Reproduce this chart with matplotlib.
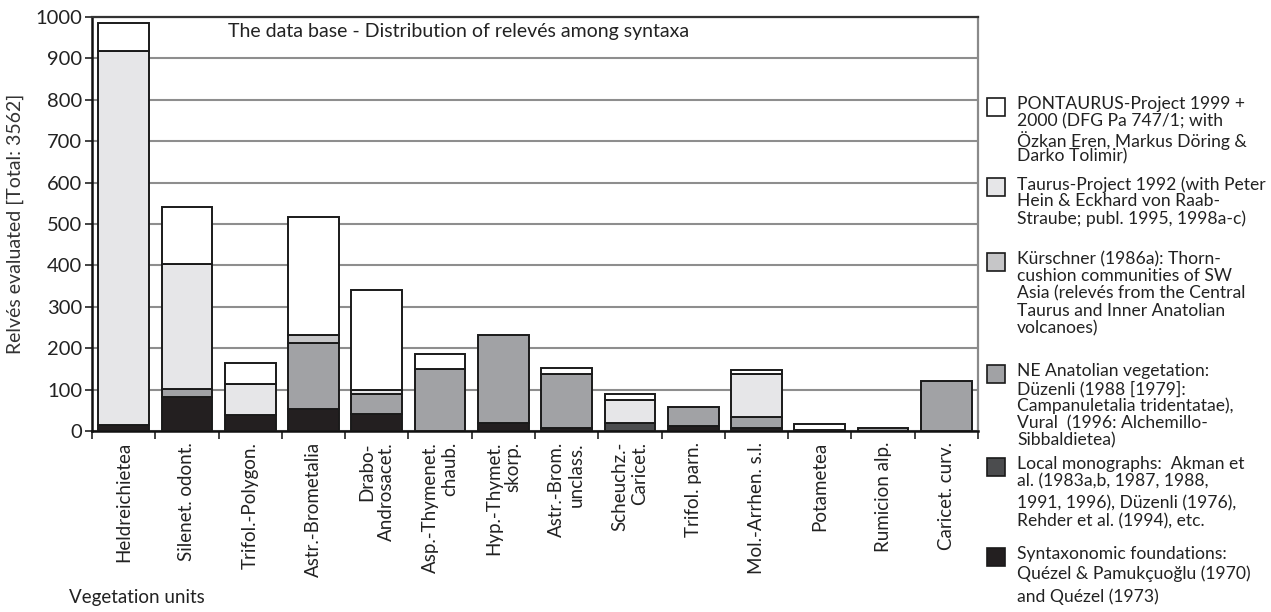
import numpy as np
import matplotlib
matplotlib.use('Agg')
import matplotlib.pyplot as plt
from matplotlib.patches import Rectangle

plt.rcParams['font.family'] = ['Lato', 'DejaVu Sans']

units = ['Heldreichietea', 'Silenet. odont.', 'Trifol.-Polygon.', 'Astr.-Brometalia',
         'Drabo-\nAndrosacet.', 'Asp.-Thymenet.\nchaub.', 'Hyp.-Thymet.\nskorp.',
         'Astr.-Brom.\nunclass.', 'Scheuchz.-\nCaricet.', 'Trifol. parn.',
         'Mol.-Arrhen. s.l.', 'Potametea', 'Rumicion alp.', 'Caricet. curv.']

# stacked from bottom to top
syntaxonomic = [14, 82, 39, 52, 42, 0, 20, 8, 0, 12, 7, 2, 0, 0]
local_mono = [0, 0, 0, 0, 0, 0, 0, 0, 19, 0, 0, 0, 0, 0]
ne_anatolian = [0, 20, 0, 161, 47, 149, 212, 130, 0, 46, 27, 0, 8, 120]
kuerschner = [0, 0, 0, 20, 0, 0, 0, 0, 0, 0, 0, 0, 0, 0]
taurus = [905, 302, 75, 0, 11, 0, 0, 0, 57, 0, 104, 0, 0, 0]
pontaurus = [67, 137, 50, 284, 240, 36, 0, 15, 13, 0, 10, 16, 0, 0]

series = [syntaxonomic, local_mono, ne_anatolian, kuerschner, taurus, pontaurus]
colors = ['#231f20', '#4b4c4e', '#a1a2a5', '#c6c6c8', '#e6e6e8', '#ffffff']

legend_labels = [
    'PONTAURUS-Project 1999 +\n2000 (DFG Pa 747/1; with\nÖzkan Eren, Markus Döring &\nDarko Tolimir)',
    'Taurus-Project 1992 (with Peter\nHein & Eckhard von Raab-\nStraube; publ. 1995, 1998a-c)',
    'Kürschner (1986a): Thorn-\ncushion communities of SW\nAsia (relevés from the Central\nTaurus and Inner Anatolian\nvolcanoes)',
    'NE Anatolian vegetation:\nDüzenli (1988 [1979]:\nCampanuletalia tridentatae),\nVural  (1996: Alchemillo-\nSibbaldietea)',
    'Local monographs:  Akman et\nal. (1983a,b, 1987, 1988,\n1991, 1996), Düzenli (1976),\nRehder et al. (1994), etc.',
    'Syntaxonomic foundations:\nQuézel & Pamukçuoğlu (1970)\nand Quézel (1973)',
]
legend_colors = colors[::-1]

W, H = 1271, 612
fig = plt.figure(figsize=(W / 100, H / 100), dpi=100)
ax = fig.add_axes([92 / W, 1 - 431 / H, (978 - 92) / W, (431 - 17) / H])

x = np.arange(len(units))
bottom = np.zeros(len(units))
for vals, col in zip(series, colors):
    vals = np.array(vals, dtype=float)
    mask = vals > 0
    ax.bar(x[mask], vals[mask], 0.8, bottom=bottom[mask], color=col,
           edgecolor='#1a1a1a', linewidth=1.4, zorder=3)
    bottom += vals

ax.set_xlim(-0.5, len(units) - 0.5)
ax.set_ylim(0, 1000)
ax.set_yticks(np.arange(0, 1001, 100))
ax.yaxis.grid(True, color='#8e8e8e', linewidth=1.5, zorder=0)
ax.set_xticks(x)
ax.set_xticklabels(units, rotation=90, va='top', ha='center',
                   multialignment='right', fontsize=13.5, color='#222222')
ax.set_xticks(np.arange(-0.5, len(units), 1), minor=True)
ax.tick_params(axis='x', which='major', length=0, pad=8)
ax.tick_params(axis='x', which='minor', length=6, width=1.2, color='#222222')
ax.tick_params(axis='y', length=5, width=1.2, labelsize=14.5, color='#222222',
               labelcolor='#222222', pad=2)

ax.spines['left'].set_linewidth(1.8)
ax.spines['bottom'].set_linewidth(1.8)
ax.spines['left'].set_color('#111111')
ax.spines['bottom'].set_color('#111111')
ax.spines['top'].set_color('#333333')
ax.spines['top'].set_linewidth(1.6)
ax.spines['right'].set_color('#8a8a8a')
ax.spines['right'].set_linewidth(1.6)

ax.set_ylabel('Relvés evaluated [Total: 3562]', fontsize=14, color='#333333')
ax.yaxis.set_label_coords(-0.077, 0.5)
ax.text(0.153, 0.965, 'The data base - Distribution of relevés among syntaxa',
        transform=ax.transAxes, fontsize=14, color='#222222', va='center', ha='left')

fig.text(69 / W, 1 - 598 / H, 'Vegetation units', fontsize=13.5, color='#222222', va='center')

# legend on the right, drawn line by line (a few lines have a wider gap above)
legend_tops = [98, 178, 253, 365, 458, 548]
extra_gap = [{}, {}, {}, {}, {2: 5}, {1: 2, 2: 6}]
pitch = 17.4
for top, lab, col, gaps in zip(legend_tops, legend_labels, legend_colors, extra_gap):
    fig.patches.append(Rectangle((987 / W, 1 - (top + 18) / H), 18 / W, 18 / H,
                                 transform=fig.transFigure, facecolor=col,
                                 edgecolor='#1a1a1a', linewidth=1.2))
    yy = top - 2
    for i, line in enumerate(lab.split('\n')):
        yy += gaps.get(i, 0)
        fig.text(1017 / W, 1 - yy / H, line, fontsize=12.6, va='top', ha='left',
                 color='#222222')
        yy += pitch

fig.savefig('out.png', dpi=100)
